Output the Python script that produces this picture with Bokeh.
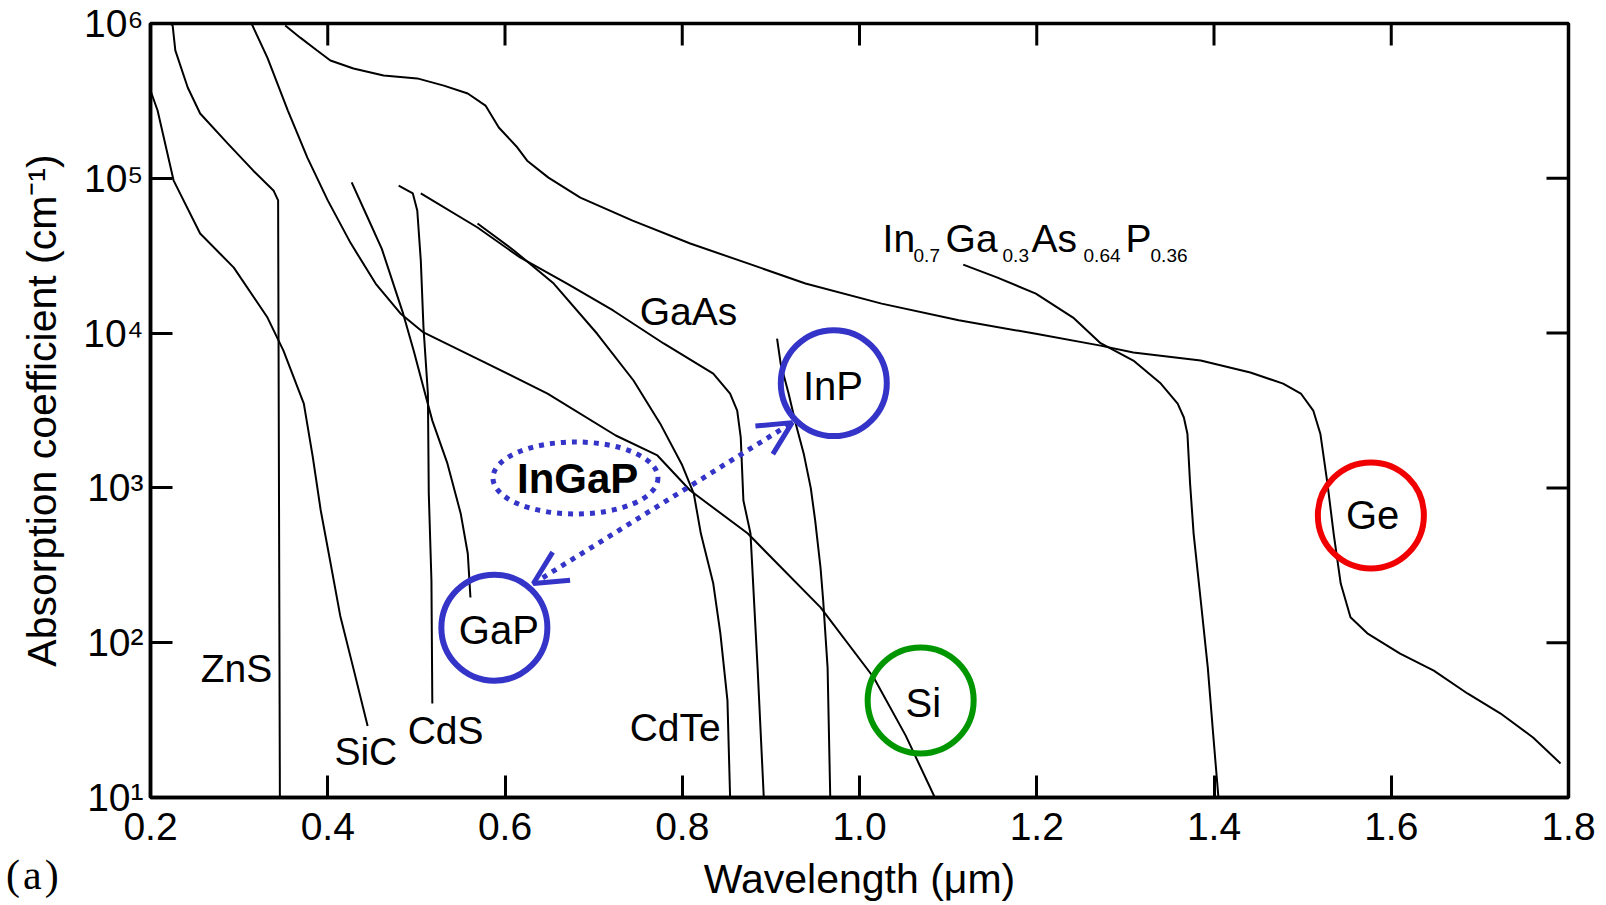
import math
from bokeh.plotting import figure
from bokeh.layouts import column
from bokeh.models import FixedTicker, Arrow, OpenHead, Div
from bokeh.core.properties import value
from bokeh.embed import file_html
from bokeh.resources import INLINE

# ---------------- axes ----------------
x_ticks = [0.2, 0.4, 0.6, 0.8, 1.0, 1.2, 1.4, 1.6, 1.8]
x_tick_labels = ["0.2", "0.4", "0.6", "0.8", "1.0", "1.2", "1.4", "1.6", "1.8"]
y_ticks = [1e1, 1e2, 1e3, 1e4, 1e5, 1e6]
y_tick_labels = ["10\u00b9", "10\u00b2", "10\u00b3", "10\u2074", "10\u2075", "10\u2076"]
x_title = "Wavelength (\u03bcm)"
y_title = "Absorption coefficient (cm\u207b\u00b9)"
x_min, x_max = 0.2, 1.8
y_min, y_max = 1e1, 1e6

# ---------------- curves: wavelength (um) / absorption coefficient (cm^-1) ----------------
zns_wl = [0.222, 0.225, 0.228, 0.242, 0.256, 0.287, 0.316, 0.339, 0.344, 0.346]
zns_alpha = [1e6, 9.7e5, 6.7e5, 3.86e5, 2.62e5, 1.68e5, 1.12e5, 8.3e4, 7.2e4, 10]

sic_wl = [0.200, 0.208, 0.226, 0.256, 0.294, 0.332, 0.350, 0.373, 0.383, 0.392, 0.403, 0.414, 0.429, 0.445]
sic_alpha = [3.69e5, 2.74e5, 9.7e4, 4.4e4, 2.65e4, 1.26e4, 7.7e3, 3.5e3, 1.6e3, 720, 330, 150, 68, 29]

si_wl = [0.314, 0.332, 0.355, 0.377, 0.400, 0.426, 0.454, 0.482, 0.508, 0.573, 0.648, 0.725,
         0.772, 0.809, 0.874, 0.956, 1.016, 1.052, 1.085]
si_alpha = [1e6, 6.0e5, 2.74e5, 1.36e5, 7.2e4, 3.8e4, 2.09e4, 1.34e4, 1.01e4, 6.65e3, 4.07e3, 2.18e3,
            1.62e3, 962, 507, 169, 59.6, 25.2, 10]

ge_wl = [0.352, 0.369, 0.388, 0.403, 0.429, 0.463, 0.501, 0.531, 0.558, 0.578, 0.593, 0.614, 0.625,
         0.649, 0.685, 0.744, 0.809, 0.874, 0.939, 1.025, 1.112, 1.199, 1.272, 1.309, 1.385, 1.441,
         1.478, 1.498, 1.512, 1.520, 1.528, 1.535, 1.543, 1.554, 1.573, 1.610, 1.648, 1.686, 1.723,
         1.760, 1.791]
ge_alpha = [9.7e5, 8.1e5, 6.7e5, 5.77e5, 5.12e5, 4.61e5, 4.42e5, 3.97e5, 3.53e5, 2.95e5, 2.13e5, 1.58e5,
            1.30e5, 1.01e5, 7.5e4, 5.33e4, 3.79e4, 2.82e4, 2.09e4, 1.55e4, 1.21e4, 9.9e3, 8.3e3, 7.5e3,
            6.65e3, 5.56e3, 4.72e3, 4.07e3, 3.16e3, 2.24e3, 1.07e3, 507, 241, 146, 115, 85, 66, 47, 35,
            24.4, 16.6]

ingaasp_wl = [1.117, 1.155, 1.199, 1.241, 1.272, 1.309, 1.340, 1.359, 1.366, 1.370, 1.373, 1.377,
              1.385, 1.393, 1.399, 1.405]
ingaasp_alpha = [2.77e4, 2.29e4, 1.80e4, 1.26e4, 8.6e3, 6.65e3, 4.72e3, 3.5e3, 2.85e3, 2.24e3, 1.07e3,
                 507, 188, 69, 25.9, 10]

cds_wl = [0.480, 0.496, 0.501, 0.505, 0.508, 0.513, 0.514, 0.517, 0.518]
cds_alpha = [8.97e4, 7.98e4, 6.19e4, 2.94e4, 1.09e4, 4.07e3, 920, 252, 40.5]

gap_wl = [0.427, 0.445, 0.461, 0.485, 0.497, 0.508, 0.518, 0.535, 0.550, 0.558, 0.561]
gap_alpha = [9.4e4, 5.58e4, 3.5e4, 1.34e4, 7.7e3, 4.46e3, 2.72e3, 1.44e3, 684, 377, 196]

gaas_wl = [0.505, 0.569, 0.617, 0.670, 0.722, 0.779, 0.835, 0.854, 0.862, 0.866, 0.869, 0.877, 0.885, 0.892]
gaas_alpha = [7.98e4, 4.81e4, 3.08e4, 2.09e4, 1.40e4, 8.57e3, 5.48e3, 4.07e3, 3.16e3, 2.12e3, 830, 507, 69, 10]

cdte_wl = [0.569, 0.610, 0.655, 0.704, 0.745, 0.775, 0.800, 0.813, 0.821, 0.835, 0.843, 0.851, 0.854]
cdte_alpha = [5.1e4, 3.42e4, 2.09e4, 9.9e3, 4.94e3, 2.61e3, 1.40e3, 920, 507, 241, 115, 42.4, 10]

inp_wl = [0.907, 0.911, 0.920, 0.928, 0.937, 0.945, 0.950, 0.956, 0.959, 0.964, 0.967]
inp_alpha = [9.2e3, 6.37e3, 4.07e3, 2.61e3, 1.67e3, 1.0e3, 615, 306, 188, 69, 10]

curves = [(zns_wl, zns_alpha), (sic_wl, sic_alpha), (si_wl, si_alpha), (ge_wl, ge_alpha),
          (ingaasp_wl, ingaasp_alpha), (cds_wl, cds_alpha), (gap_wl, gap_alpha),
          (gaas_wl, gaas_alpha), (cdte_wl, cdte_alpha), (inp_wl, inp_alpha)]

# ---------------- plain curve labels ----------------
label_text = ["ZnS", "SiC", "CdS", "CdTe", "GaAs"]
label_x = [0.297, 0.443, 0.533, 0.792, 0.807]
label_y = [68.4, 19.8, 27.2, 28.5, 1.38e4]

# InGaAsP composite label
ingaasp_label_x = 1.026
ingaasp_label_y = 4.11e4
ingaasp_main = ["In", "Ga", "As", "P"]
ingaasp_subs = ["0.7", "0.3", "0.64", "0.36"]

# ---------------- highlighted materials (circles) ----------------
circ_names = ["InP", "GaP", "Si", "Ge"]
circ_x = [0.971, 0.588, 1.069, 1.577]
circ_y = [4.75e3, 125, 42.4, 664]
circ_text_x = [0.970, 0.593, 1.072, 1.579]
circ_text_y = [4.57e3, 121, 40.7, 667]

BLUE = "#3434C8"
GREEN = "#009600"
RED = "#F00000"
circ_colors = [BLUE, BLUE, GREEN, RED]

# InGaP dotted ellipse + double arrow between GaP and InP
ingap_x = 0.6795
ingap_y = 1159
ingap_text_x = 0.682
ingap_text_y = 1156
arrow_x = [0.632, 0.924]
arrow_y = [241, 2640]

panel_label = "(a)"

FONT = "Liberation Sans"

p = figure(width=1600, height=905, x_range=(x_min, x_max), y_range=(y_min, y_max), y_axis_type="log",
           output_backend="svg", toolbar_location=None,
           min_border_left=150, min_border_right=32, min_border_top=23, min_border_bottom=108)
p.outline_line_color = "black"
p.outline_line_width = 3.5
p.xgrid.grid_line_color = None
p.ygrid.grid_line_color = None
p.background_fill_color = "white"
p.border_fill_color = None


def style(ax):
    ax.axis_line_width = 3.5
    ax.axis_line_color = "black"
    ax.major_tick_in = 22
    ax.major_tick_out = 0
    ax.major_tick_line_width = 3
    ax.major_tick_line_color = "black"
    ax.minor_tick_line_color = None
    ax.major_label_text_font = FONT
    ax.major_label_text_color = "black"
    ax.axis_label_text_font = FONT
    ax.axis_label_text_font_style = "normal"
    ax.axis_label_text_color = "black"


xa = p.xaxis[0]
style(xa)
xa.ticker = FixedTicker(ticks=x_ticks)
xa.major_label_overrides = dict(zip(x_ticks, x_tick_labels))
xa.major_label_text_font_size = "39px"
xa.major_label_standoff = 15
xa.axis_label = x_title
xa.axis_label_text_font_size = "41px"
xa.axis_label_standoff = 13

ya = p.yaxis[0]
style(ya)
ya.ticker = FixedTicker(ticks=y_ticks)
ya.major_label_overrides = dict(zip(y_ticks, y_tick_labels))
ya.major_label_text_font_size = "39px"
ya.major_label_standoff = 7
ya.axis_label = y_title
ya.axis_label_text_font_size = "41px"
ya.axis_label_standoff = 15

# mirrored inward ticks on the top and right frame edges (half of each dash is clipped by the frame)
p.scatter(x=x_ticks, y=[y_max] * len(x_ticks), marker="dash", size=44, angle=math.pi / 2,
          line_color="black", line_width=3)
p.scatter(x=[x_max] * len(y_ticks), y=y_ticks, marker="dash", size=44,
          line_color="black", line_width=3)

for wl, alpha in curves:
    p.line(wl, alpha, line_color="black", line_width=2)

p.text(x=label_x, y=label_y, text=label_text, text_font=value(FONT), text_font_size=value("39px"),
       text_align="center", text_baseline="alphabetic", text_color="black")

p.text(x=[ingaasp_label_x] * 4, y=[ingaasp_label_y] * 4, text=ingaasp_main,
       x_offset=[0, 63, 149, 243], text_font=value(FONT), text_font_size=value("39px"),
       text_align="left", text_baseline="alphabetic", text_color="black")
p.text(x=[ingaasp_label_x] * 4, y=[ingaasp_label_y] * 4, text=ingaasp_subs,
       x_offset=[31, 120, 201, 268], y_offset=[17, 17, 17, 17], text_font=value(FONT),
       text_font_size=value("19px"), text_align="left", text_baseline="alphabetic", text_color="black")

p.circle(x=circ_x, y=circ_y, radius=53, radius_units="screen", fill_color=None,
         line_color=circ_colors, line_width=6)
p.text(x=circ_text_x, y=circ_text_y, text=circ_names, text_font=value(FONT),
       text_font_size=value("40px"), text_align="center", text_baseline="alphabetic",
       text_color="black")

p.ellipse(x=[ingap_x], y=[ingap_y], width=165, height=72, width_units="screen",
          height_units="screen", fill_color=None, line_color=BLUE, line_width=5,
          line_dash="5 6")
p.text(x=[ingap_text_x], y=[ingap_text_y], text=["InGaP"], text_font=value(FONT),
       text_font_size=value("42px"), text_font_style="bold", text_align="center",
       text_baseline="alphabetic", text_color="black")

p.add_layout(Arrow(start=OpenHead(size=33, line_color=BLUE, line_width=5),
                   end=OpenHead(size=33, line_color=BLUE, line_width=5),
                   x_start=arrow_x[0], y_start=arrow_y[0], x_end=arrow_x[1], y_end=arrow_y[1],
                   line_color=BLUE, line_width=5, line_dash="5 6"))

panel = Div(text=panel_label, width=80, height=44, margin=(-51, 0, 0, 6),
            styles={"font-family": "Liberation Serif", "font-size": "42px", "color": "black",
                    "line-height": "1", "letter-spacing": "3px"})

open("out.html", "w").write(file_html(column(p, panel), INLINE))
